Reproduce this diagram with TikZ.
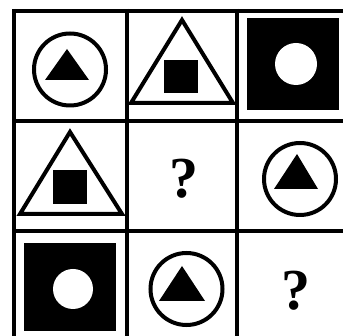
\documentclass[tikz,border=0pt]{standalone}
\usepackage{fontspec}
\usepackage{tikz}
\usetikzlibrary{calc}
\newfontfamily\qfont{Liberation Serif}
\tikzset{
  gridln/.style={line width=4.8pt},
  ring/.style={draw, line width=4pt},
  tri/.style={draw, line width=4pt, line join=miter},
  blk/.style={fill=black},
  hole/.style={fill=white},
  qmark/.style={font=\qfont\fontsize{58}{58}\selectfont\bfseries, inner sep=0pt},
}

\begin{document}
\begin{tikzpicture}[x=1pt, y=-1pt]
  \useasboundingbox[fill=white] (0,0) rectangle (343,336);
  % ---------- grid ----------
  \draw[gridln] (12,11) -- (343,11);
  \draw[gridln] (12,121) -- (343,121);
  \draw[gridln] (12,231) -- (343,231);
  \draw[gridln] (14,9) -- (14,336);
  \draw[gridln] (127,9) -- (127,336);
  \draw[gridln] (237,9) -- (237,336);
  % ---------- row 1 ----------
  \draw[ring] (70,69.5) circle (36pt);
  \fill[blk] (45,80) -- (89,80) -- (67,49) -- cycle;
  \draw[tri] (131,103) -- (233,103) -- (182,20) -- cycle;
  \fill[blk] (164,60) rectangle (198,93);
  \fill[blk] (247,18) rectangle (339,110);
  \fill[hole] (296,64) circle (21pt);
  % ---------- row 2 ----------
  \draw[tri] (20,214) -- (122,214) -- (70,132) -- cycle;
  \fill[blk] (53,170) rectangle (87,204);
  \node[qmark] (q1) at (184,179) {?};
  \draw[ring] (300,179) circle (36pt);
  \fill[blk] (274,189) -- (318,189) -- (297,154) -- cycle;
  % ---------- row 3 ----------
  \fill[blk] (24,243) rectangle (116,331);
  \fill[hole] (73,289) circle (20pt);
  \draw[ring] (186.5,289) circle (36pt);
  \fill[blk] (159,301) -- (205,301) -- (182,266) -- cycle;
  \node[qmark] (q2) at (296,291) {?};
\end{tikzpicture}
\end{document}
